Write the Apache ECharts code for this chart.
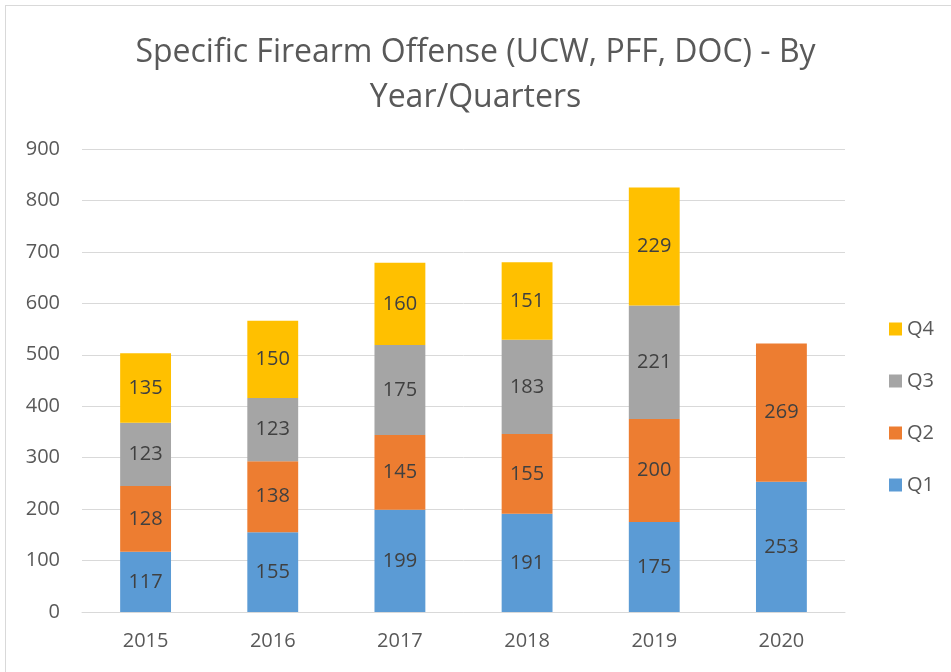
<!DOCTYPE html>
<html>
<head>
<meta charset="utf-8">
<script src="https://cdn.jsdelivr.net/npm/echarts@6/dist/echarts.min.js"></script>
<style>
  html, body { margin: 0; padding: 0; background: #fff; }
  #frame { position: absolute; left: 5px; top: 5px; width: 960px; height: 680px; border: 1px solid #d9d9d9; box-sizing: border-box; }
  #main { position: absolute; left: 0; top: 0; width: 951px; height: 672px; }
</style>
</head>
<body>
<div id="frame"></div>
<div id="main"></div>
<script>
var years = ['2015', '2016', '2017', '2018', '2019', '2020'];
var q1 = [117, 155, 199, 191, 175, 253];
var q2 = [128, 138, 145, 155, 200, 269];
var q3 = [123, 123, 175, 183, 221, null];
var q4 = [135, 150, 160, 151, 229, null];
var yTicks = [0, 100, 200, 300, 400, 500, 600, 700, 800, 900];

var font = '"Open Sans", "Noto Sans", sans-serif';
var myChart = echarts.init(document.getElementById('main'));

function mk(name, data, color) {
    return {
        name: name,
        type: 'bar',
        stack: 'total',
        data: data,
        barWidth: '40%',
        itemStyle: { color: color },
        label: {
            show: true,
            position: 'inside',
            color: '#404040',
            fontSize: 20,
            fontFamily: font
        }
    };
}

var option = {
    animation: false,
    title: {
        text: 'Specific Firearm Offense (UCW, PFF, DOC) - By\nYear/Quarters',
        left: 'center',
        top: 25,
        textStyle: {
            fontSize: 32,
            fontWeight: 'normal',
            color: '#595959',
            fontFamily: font,
            lineHeight: 45
        }
    },
    legend: {
        orient: 'vertical',
        left: 884,
        top: 314,
        itemGap: 32,
        itemWidth: 13,
        itemHeight: 13,
        icon: 'rect',
        data: ['Q4', 'Q3', 'Q2', 'Q1'],
        textStyle: { fontSize: 20, color: '#595959', fontFamily: font }
    },
    grid: { left: 82, right: 106, top: 149, bottom: 60 },
    xAxis: {
        type: 'category',
        data: years,
        axisLine: { lineStyle: { color: '#d9d9d9', width: 1 } },
        axisTick: { show: false },
        axisLabel: { fontSize: 20, color: '#595959', fontFamily: font, margin: 19 }
    },
    yAxis: {
        type: 'value',
        min: yTicks[0],
        max: yTicks[yTicks.length - 1],
        interval: 100,
        axisLine: { show: false },
        axisTick: { show: false },
        splitLine: { lineStyle: { color: '#d9d9d9', width: 1 } },
        axisLabel: { fontSize: 20, color: '#595959', fontFamily: font, margin: 22 }
    },
    series: [
        mk('Q1', q1, '#5B9BD5'),
        mk('Q2', q2, '#ED7D31'),
        mk('Q3', q3, '#A5A5A5'),
        mk('Q4', q4, '#FFC000')
    ]
};

myChart.setOption(option);
</script>
</body>
</html>
